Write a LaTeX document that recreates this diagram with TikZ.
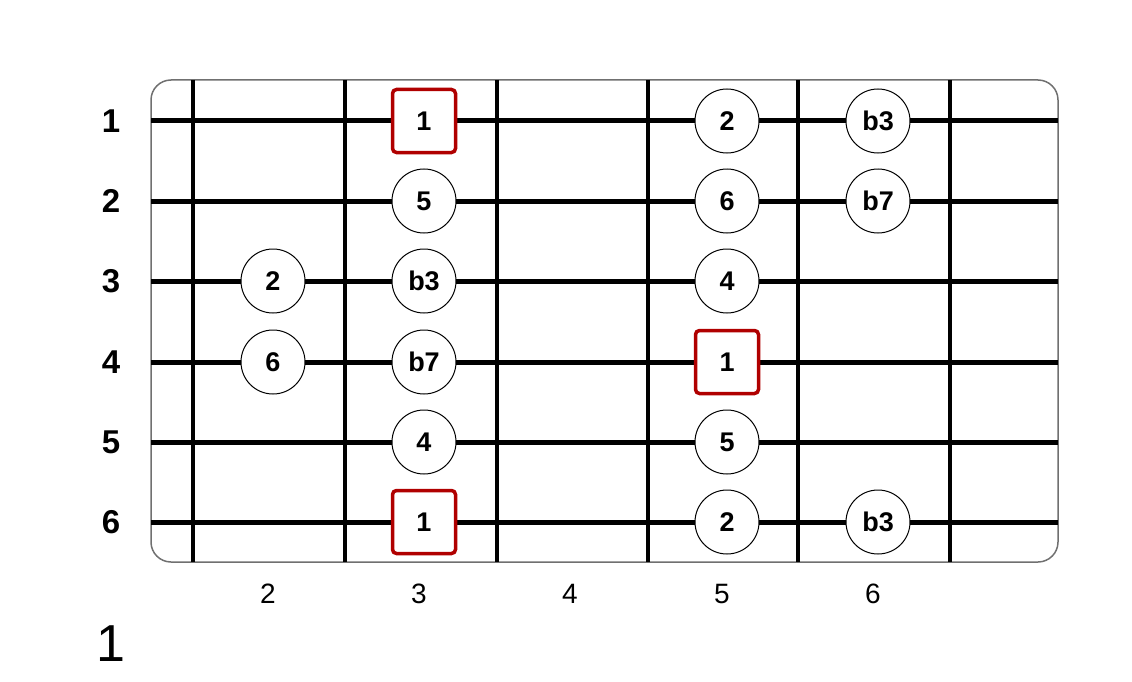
\documentclass[tikz,border=0pt]{standalone}
\usepackage{fontspec}
\setmainfont{Liberation Sans}
\usetikzlibrary{positioning}
\definecolor{rootred}{RGB}{176,0,0}
\definecolor{boardgray}{RGB}{112,112,112}

\tikzset{
  gtrstring/.style={line width=5pt},
  fretbar/.style={line width=3.5pt},
  note/.style={circle, draw, fill=white, line width=1pt, minimum size=64pt, inner sep=0pt,
    font=\fontsize{27}{30}\selectfont\bfseries},
  rootnote/.style={rectangle, draw=rootred, fill=white, line width=3.5pt, rounded corners=4pt,
    minimum size=63pt, inner sep=0pt, font=\fontsize{27}{30}\selectfont\bfseries},
  strnum/.style={font=\fontsize{33}{38}\selectfont\bfseries},
  fretnum/.style={font=\fontsize{28}{32}\selectfont},
}

\begin{document}
\begin{tikzpicture}[x=1pt, y=-1pt, line cap=butt]
  \useasboundingbox (0,0) rectangle (1132,682);
  %--- Board
    \draw[boardgray, line width=1.5pt, fill=white, rounded corners=20pt] (151,80) rectangle (1058,562);
  %--- Frets
    \foreach \x in {193,345,497,648,798,950}
      \draw[fretbar] (\x,80) -- (\x,562);
  %--- Strings
    \foreach \s/\y in {1/121,2/201,3/281,4/362,5/442,6/522} {
      \draw[gtrstring] (151,\y) -- (1058,\y);
      \node[strnum] (str\s) at (111,\y) {\s};
    }
  %--- Fret numbers
    \foreach \c/\x in {2/273,3/424,4/575,5/727,6/878} {
      \coordinate (col\c) at (\x,562);
      \node[fretnum] (fret\c) at (\x-5,594) {\c};
    }
  %--- Scale degrees
    \foreach \s/\c/\t in {1/5/2, 1/6/b3, 2/3/5, 2/5/6, 2/6/b7, 3/2/2, 3/3/b3, 3/5/4,
                          4/2/6, 4/3/b7, 5/3/4, 5/5/5, 6/5/2, 6/6/b3}
      \node[note] (n\s-\c) at (col\c |- str\s) {\t};
  %--- Roots
    \foreach \s/\c in {1/3, 4/5, 6/3}
      \node[rootnote] (r\s-\c) at (col\c |- str\s) {1};
  %--- Position
    \node[font=\fontsize{52}{58}\selectfont] (pos) at (111,644) {1};
\end{tikzpicture}
\end{document}
